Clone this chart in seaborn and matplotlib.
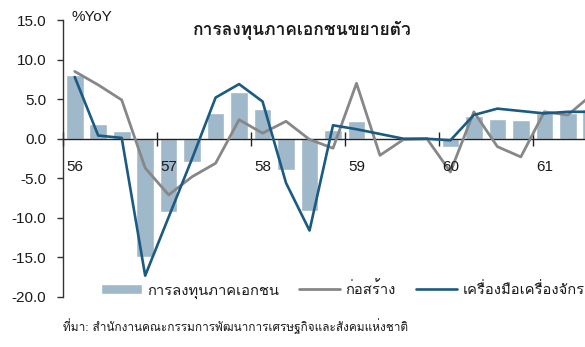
import matplotlib
matplotlib.use("Agg")
import matplotlib.pyplot as plt
from matplotlib import font_manager
import numpy as np
import pandas as pd
import seaborn as sns

# Quarterly % YoY, Q1/2556 .. Q3/2561
quarter_labels = ["56Q1", "56Q2", "56Q3", "56Q4", "57Q1", "57Q2", "57Q3", "57Q4",
                  "58Q1", "58Q2", "58Q3", "58Q4", "59Q1", "59Q2", "59Q3", "59Q4",
                  "60Q1", "60Q2", "60Q3", "60Q4", "61Q1", "61Q2", "61Q3"]
private_investment = [8.0, 1.8, 1.0, -14.9, -9.2, -2.9, 3.3, 5.9, 3.8, -3.9, -9.1, 1.1,
                      2.3, 0.1, 0.1, 0.1, -1.0, 2.9, 2.5, 2.4, 3.3, 3.2, 3.7]
construction = [8.5, 6.8, 4.9, -3.7, -7.1, -4.8, -3.1, 2.4, 0.7, 2.2, -0.1, -1.2,
                7.0, -2.1, -0.1, 0.0, -4.2, 3.4, -1.0, -2.3, 3.4, 3.0, 5.5]
machinery = [7.8, 0.4, 0.1, -17.3, -9.9, -2.5, 5.2, 6.9, 4.7, -5.6, -11.6, 1.7,
             1.2, 0.6, 0.0, 0.0, -0.2, 3.0, 3.8, 3.5, 3.2, 3.4, 3.4]
year_labels = ["56", "57", "58", "59", "60", "61"]
y_ticks = [-20, -15, -10, -5, 0, 5, 10, 15]

title = "การลงทุนภาคเอกชนขยายตัว"
series_names = ["การลงทุนภาคเอกชน", "ก่อสร้าง", "เครื่องมือเครื่องจักร"]
source = "ที่มา: สำนักงานคณะกรรมการพัฒนาการเศรษฐกิจและสังคมแห่งชาติ"


def find_thai_family():
    """Return an installed family that covers Thai script."""
    try:
        from fontTools.ttLib import TTFont
    except Exception:
        return None
    found = []
    for fe in font_manager.fontManager.ttflist:
        try:
            f = TTFont(fe.fname, fontNumber=0, lazy=True)
            cmap = f.getBestCmap() or {}
            if 0x0E01 in cmap and 0x0E48 in cmap and 0x0E33 in cmap:
                found.append(fe.name)
        except Exception:
            continue
    if not found:
        return None
    for pref in ("Tahoma", "Loma", "Noto Sans Thai Looped", "Noto Sans Thai",
                 "Garuda", "Umpush", "Waree", "Sarabun"):
        if pref in found:
            return pref
    return sorted(found)[0]


sns.set_style("white")
thai = find_thai_family()
latin = "Liberation Sans"
fams = [thai, latin] if thai else [latin, "DejaVu Sans"]
plt.rcParams["font.family"] = fams

df = pd.DataFrame({
    "pos": np.arange(len(quarter_labels)),
    "quarter": quarter_labels,
    "private": private_investment,
    "construction": construction,
    "machinery": machinery,
})

W, H = 585, 347
fig = plt.figure(figsize=(W / 100, H / 100), dpi=100)
ax = fig.add_axes([63 / W, 1 - 297 / H, (626.5 - 63) / W, (297 - 20) / H])

bar_color = "#9FB8CA"
gray = "#878787"
blue = "#1B5A83"

sns.barplot(data=df, x="pos", y="private", native_scale=True, width=0.75,
            color=bar_color, saturation=1, ax=ax, label=series_names[0], zorder=1)
sns.lineplot(data=df, x="pos", y="construction", color=gray, lw=2.0, ax=ax,
             label=series_names[1], zorder=3)
sns.lineplot(data=df, x="pos", y="machinery", color=blue, lw=1.9, ax=ax,
             label=series_names[2], zorder=4)

handles, labels = ax.get_legend_handles_labels()
if ax.get_legend() is not None:
    ax.get_legend().remove()

ax.set_xlim(-0.5, 23.5)
ax.set_ylim(-20, 15)
ax.set_xlabel("")
ax.set_ylabel("")

# y axis
ax.set_yticks(y_ticks)
ax.set_yticklabels([f"{v:.1f}" for v in y_ticks], fontfamily=latin, fontsize=11,
                   color="#1a1a1a")
ax.tick_params(axis="y", direction="out", length=4, width=1, color="#333333",
               pad=8, left=True)

# category axis sits on the zero line with year-boundary cross ticks
for s in ("top", "right"):
    ax.spines[s].set_visible(False)
ax.spines["left"].set_color("#333333")
ax.spines["left"].set_linewidth(1)
ax.spines["bottom"].set_position(("data", 0))
ax.spines["bottom"].set_color("#222222")
ax.spines["bottom"].set_linewidth(1)
ax.spines["bottom"].set_zorder(2)
boundaries = [4 * k - 0.5 for k in range(len(year_labels))]
ax.set_xticks(boundaries)
ax.set_xticklabels([""] * len(boundaries))
ax.tick_params(axis="x", direction="inout", length=10, width=1, color="#222222",
               bottom=True)
for b, lab in zip(boundaries, year_labels):
    ax.annotate(lab, xy=(b, -3.6), xytext=(2.5, 0), textcoords="offset points",
                ha="left", va="center", fontsize=11, fontfamily=latin,
                color="#1a1a1a", annotation_clip=False)

# legend along the bottom of the plot area
order = [labels.index(n) for n in series_names]
leg = fig.legend([handles[i] for i in order], [labels[i] for i in order],
                 loc="center left", bbox_to_anchor=(101 / W, 1 - 290 / H),
                 ncol=3, frameon=False, handlelength=2.8,
                 handleheight=0.65, handletextpad=0.35, columnspacing=1.35,
                 borderpad=0, borderaxespad=0,
                 prop={"family": fams, "size": 10.6})
for t in leg.get_texts():
    t.set_color("#1a1a1a")

fig.text(72 / W, 1 - 17 / H, "%YoY", fontfamily=latin, fontsize=11,
         color="#1a1a1a", ha="left", va="center")
fig.text(302 / W, 1 - 31 / H, title, fontsize=12.5, fontweight="bold",
         color="#1a1a1a", ha="center", va="center", fontfamily=fams)
fig.text(63 / W, 1 - 326 / H, source, fontsize=8.5, color="#1a1a1a",
         ha="left", va="center", fontfamily=fams)

fig.savefig("out.png", dpi=100)
